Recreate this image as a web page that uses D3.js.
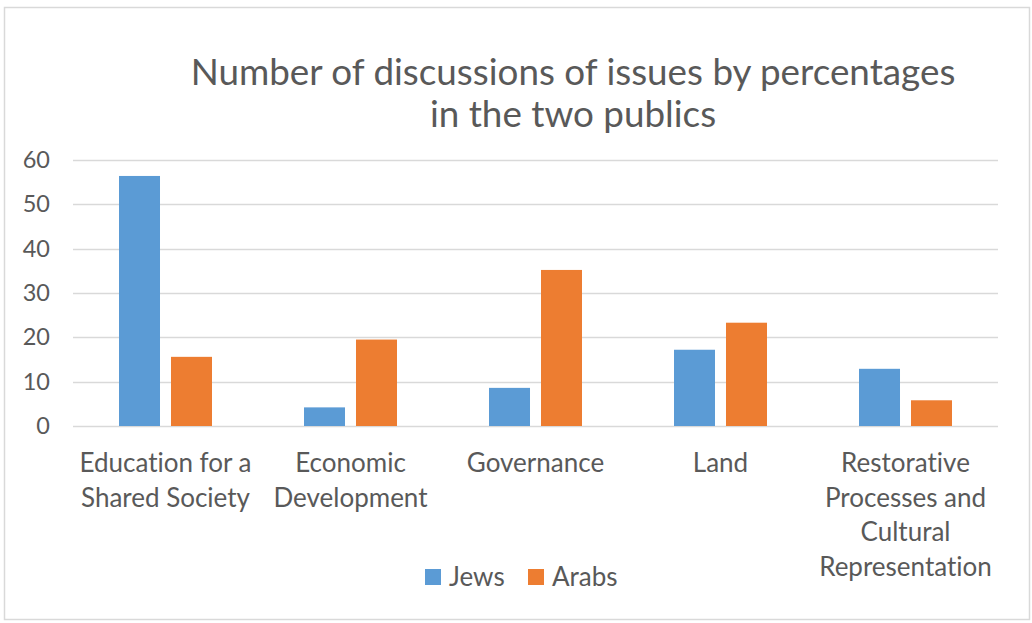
<!DOCTYPE html>
<html>
<head>
<meta charset="utf-8">
<script src="https://cdn.jsdelivr.net/npm/d3@7"></script>
<style>
  body { margin: 0; background: #fff; }
  text { font-family: Lato, "Open Sans", sans-serif; fill: #595959; font-variant-ligatures: none; }
</style>
</head>
<body>
<div id="chart"></div>
<script>
// data
var categories = [
  ["Education for a", "Shared Society"],
  ["Economic", "Development"],
  ["Governance"],
  ["Land"],
  ["Restorative", "Processes and", "Cultural", "Representation"]
];
var seriesNames = ["Jews", "Arabs"];
var jews = [56.4, 4.2, 8.6, 17.2, 12.9];
var arabs = [15.6, 19.5, 35.2, 23.3, 5.8];
var yTicks = [0, 10, 20, 30, 40, 50, 60];
var colors = ["#5b9bd5", "#ed7d31"];

var width = 1032, height = 623;
var svg = d3.select("#chart").append("svg")
  .attr("width", width)
  .attr("height", height);

// chart border
svg.append("rect")
  .attr("x", 4.5).attr("y", 7.5)
  .attr("width", 1025).attr("height", 612)
  .attr("fill", "#fff")
  .attr("stroke", "#d9d9d9")
  .attr("stroke-width", 1.5);

var plotLeft = 73, plotRight = 998, plotTop = 160, plotBottom = 426;

var catIdx = d3.range(categories.length);
var x = d3.scaleBand()
  .domain(catIdx)
  .range([plotLeft, plotRight])
  .padding(0);

var xInner = d3.scaleBand()
  .domain(seriesNames)
  .range([0, x.bandwidth()])
  .paddingInner(0.2115)
  .paddingOuter(0.885);

var y = d3.scaleLinear()
  .domain([0, 60])
  .range([plotBottom, plotTop]);

// gridlines
svg.append("g")
  .selectAll("line")
  .data(yTicks)
  .join("line")
    .attr("x1", plotLeft)
    .attr("x2", plotRight)
    .attr("y1", function(d) { return Math.round(y(d)) + 0.5; })
    .attr("y2", function(d) { return Math.round(y(d)) + 0.5; })
    .attr("stroke", "#d9d9d9")
    .attr("stroke-width", 1.5);

// y axis labels
var yAxis = d3.axisLeft(y).tickValues(yTicks).tickSize(0).tickPadding(0);
svg.append("g")
  .attr("transform", "translate(50,0)")
  .call(yAxis)
  .call(function(g) { g.select(".domain").remove(); })
  .selectAll("text")
    .style("font-size", "23.5px")
    .style("font-family", "Lato, sans-serif")
    .attr("fill", "#595959");

// bars
var rows = catIdx.map(function(i) {
  return [{s: "Jews", v: jews[i], c: colors[0]}, {s: "Arabs", v: arabs[i], c: colors[1]}];
});
svg.append("g")
  .selectAll("g")
  .data(rows)
  .join("g")
    .attr("transform", function(d, i) { return "translate(" + x(i) + ",0)"; })
  .selectAll("rect")
  .data(function(d) { return d; })
  .join("rect")
    .attr("x", function(d) { return xInner(d.s); })
    .attr("width", xInner.bandwidth())
    .attr("y", function(d) { return y(d.v); })
    .attr("height", function(d) { return y(0) - y(d.v); })
    .attr("fill", function(d) { return d.c; });

// category labels
var catLabels = svg.append("g")
  .selectAll("text")
  .data(categories)
  .join("text")
    .attr("x", function(d, i) { return x(i) + x.bandwidth() / 2; })
    .attr("y", 472)
    .attr("text-anchor", "middle")
    .style("font-size", "26px");
catLabels.selectAll("tspan")
  .data(function(d) { return d; })
  .join("tspan")
    .attr("x", function() { return d3.select(this.parentNode).attr("x"); })
    .attr("dy", function(d, i) { return i === 0 ? 0 : 34.5; })
    .text(function(d) { return d; });

// title
var title = svg.append("text")
  .attr("x", 573)
  .attr("y", 85)
  .attr("text-anchor", "middle")
  .style("font-size", "36.8px");
title.append("tspan").attr("x", 573).text("Number of discussions of issues by percentages");
title.append("tspan").attr("x", 573).attr("dy", 42).text("in the two publics");

// legend
var legendX = [425, 528];
var legend = svg.append("g")
  .selectAll("g")
  .data(seriesNames)
  .join("g")
    .attr("transform", function(d, i) { return "translate(" + legendX[i] + ",569)"; });
legend.append("rect")
  .attr("width", 16).attr("height", 16)
  .attr("fill", function(d, i) { return colors[i]; });
legend.append("text")
  .attr("x", 24)
  .attr("y", 17)
  .style("font-size", "26px")
  .text(function(d) { return d; });
</script>
</body>
</html>
